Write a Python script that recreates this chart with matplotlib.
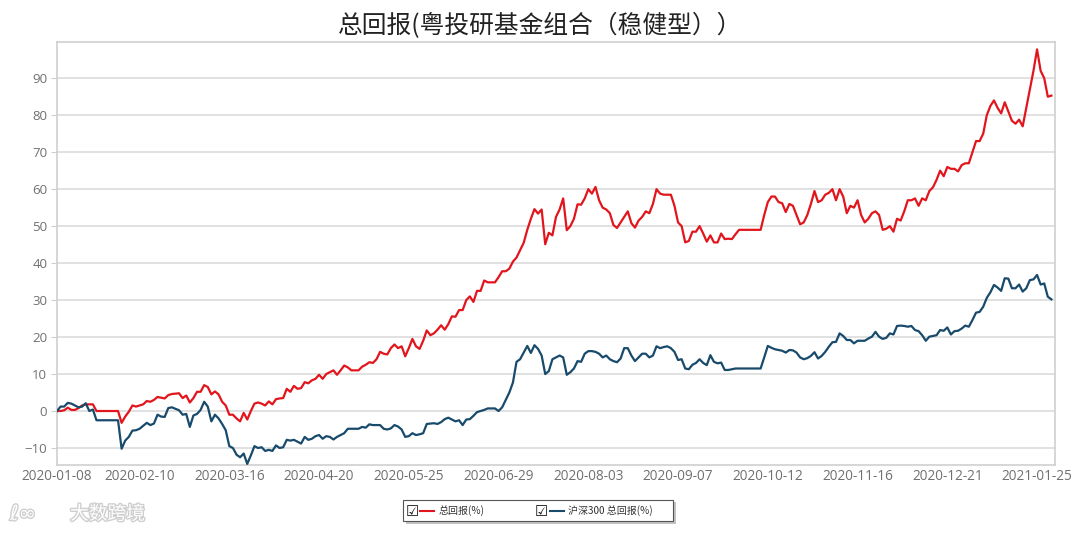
import matplotlib
matplotlib.use('Agg')
import matplotlib.pyplot as plt
import matplotlib.patheffects as pe
from matplotlib.patches import Rectangle
from matplotlib.lines import Line2D
import numpy as np
import pandas as pd

red = '#e2151c'
blue = '#184a6c'
gray = '#707070'

plt.rcParams['font.family'] = ['Noto Sans CJK SC', 'DejaVu Sans']

title = '总回报(粤投研基金组合（稳健型））'
label_fund = '总回报(%)'
label_index = '沪深300 总回报(%)'
start_date = '2020-01-08'

# 每个工作日一个值 (节假日沿用前值)
total_return = [
    0, 0, 0.2, 0.9, 0.3, 0.3, 0.8, 1.5, 1.8, 1.8,
    1.8, 0, 0, 0, 0, 0, 0, 0, -3.2, -1.5,
    -0.2, 1.5, 1.2, 1.5, 1.8, 2.7, 2.5, 3.0, 3.8, 3.6,
    3.4, 4.3, 4.6, 4.7, 4.8, 3.5, 4.2, 2.3, 3.5, 5.2,
    5.2, 7.0, 6.5, 4.5, 5.3, 4.5, 2.5, 1.5, -1.0, -1.0,
    -2.0, -2.8, -0.5, -2.3, 0.0, 2.0, 2.3, 2.0, 1.5, 2.6,
    1.8, 3.2, 3.4, 3.5, 6.0, 5.2, 6.8, 6.0, 6.2, 7.8,
    7.5, 8.3, 8.7, 9.8, 8.7, 10.0, 10.5, 11.0, 9.8, 11.0,
    12.3, 11.8, 11.0, 11.0, 11.0, 12.0, 12.5, 13.2, 13.0, 14.0,
    16.0, 15.5, 15.3, 17.0, 18.0, 17.0, 17.5, 14.8, 17.0, 19.5,
    17.5, 16.8, 19.0, 21.8, 20.5, 21.0, 22.0, 23.2, 22.0, 23.5,
    25.6, 25.5, 27.3, 27.3, 30.0, 31.0, 29.5, 32.5, 32.5, 35.3,
    34.8, 34.8, 34.8, 36.2, 37.8, 37.8, 38.5, 40.4, 41.5, 43.5,
    45.5, 49.0, 52.0, 54.6, 53.4, 54.5, 45.1, 48.2, 47.5, 52.5,
    54.5, 57.5, 48.9, 50.0, 52.0, 55.9, 55.8, 57.5, 60.0, 58.8,
    60.6, 57.0, 55.0, 54.5, 53.5, 50.3, 49.5, 51.0, 52.5, 54.0,
    50.8, 49.6, 51.5, 52.5, 54.0, 53.5, 56.0, 60.0, 58.8, 58.5,
    58.5, 58.5, 55.5, 51.0, 50.0, 45.6, 46.0, 48.5, 48.5, 50.0,
    48.0, 45.8, 47.5, 45.6, 45.6, 48.0, 46.5, 46.6, 46.5, 47.8,
    49.0, 49.0, 49.0, 49.0, 49.0, 49.0, 49.0, 53.0, 56.5, 58.0,
    58.0, 56.5, 56.2, 53.8, 56.0, 55.5, 53.0, 50.5, 51.0, 53.0,
    56.0, 59.5, 56.5, 57.0, 58.5, 59.0, 60.0, 57.0, 60.0, 58.0,
    53.5, 55.5, 55.0, 57.0, 53.0, 51.0, 52.0, 53.5, 54.0, 53.0,
    49.0, 49.3, 50.0, 48.5, 52.0, 51.5, 54.0, 57.0, 57.0, 57.5,
    55.5, 57.5, 57.0, 59.5, 60.5, 62.5, 65.0, 63.5, 66.0, 65.5,
    65.5, 64.8, 66.5, 67.0, 67.0, 70.0, 73.0, 73.0, 75.0, 80.0,
    82.5, 84.0, 82.0, 80.5, 83.5, 81.0, 78.5, 77.7, 78.8, 77.0,
    82.0, 87.0, 92.0, 97.8, 92.0, 90.0, 85.0, 85.3,
]

hs300_return = [
    0, 1.2, 1.2, 2.2, 2.0, 1.5, 1.0, 1.2, 2.1, 0.0,
    0.4, -2.5, -2.5, -2.5, -2.5, -2.5, -2.5, -2.5, -10.2, -8.0,
    -7.0, -5.3, -5.2, -4.8, -4.0, -3.2, -3.8, -3.4, -1.0, -1.5,
    -1.6, 0.8, 1.0, 0.6, 0.2, -1.0, -0.8, -4.3, -1.2, -0.8,
    0.3, 2.5, 1.2, -2.8, -1.0, -2.0, -3.5, -5.2, -9.5, -10.0,
    -11.8, -12.5, -11.5, -14.3, -12.0, -9.5, -10.0, -9.8, -10.8, -10.5,
    -10.8, -9.3, -10.0, -9.8, -7.8, -8.0, -7.8, -8.3, -8.8, -7.0,
    -7.8, -7.5, -6.8, -6.5, -7.5, -6.8, -7.0, -7.7, -7.0, -6.5,
    -6.0, -4.8, -4.8, -4.8, -4.8, -4.3, -4.5, -3.6, -3.8, -3.8,
    -3.8, -4.8, -5.0, -4.7, -3.8, -4.2, -5.0, -7.0, -6.8, -6.0,
    -6.5, -6.3, -6.0, -3.5, -3.4, -3.3, -3.5, -3.0, -2.2, -1.8,
    -2.3, -2.8, -2.5, -3.8, -2.3, -2.2, -1.3, -0.3, 0.0, 0.3,
    0.7, 0.7, 0.7, 0.0, 1.0, 3.0, 5.0, 7.7, 13.3, 14.0,
    15.8, 17.6, 15.7, 17.8, 16.8, 15.0, 10.0, 10.8, 14.0, 14.5,
    15.0, 14.5, 9.8, 10.5, 11.5, 13.5, 13.3, 15.5, 16.2, 16.2,
    16.0, 15.5, 14.5, 15.0, 14.0, 13.5, 13.2, 14.2, 17.0, 17.0,
    15.0, 13.5, 14.5, 15.5, 15.5, 14.5, 15.0, 17.5, 17.0, 17.3,
    17.5, 17.0, 16.0, 13.8, 14.0, 11.5, 11.3, 12.5, 13.0, 14.0,
    13.0, 12.4, 15.1, 13.3, 12.9, 13.1, 11.1, 11.1, 11.3, 11.5,
    11.5, 11.5, 11.5, 11.5, 11.5, 11.5, 11.5, 14.5, 17.6, 17.1,
    16.7, 16.5, 16.3, 15.8, 16.5, 16.4, 15.8, 14.5, 14.0, 14.3,
    14.9, 15.9, 14.2, 14.9, 16.0, 17.4, 18.6, 18.7, 21.0, 20.3,
    19.2, 19.2, 18.3, 19.0, 19.0, 19.0, 19.6, 20.1, 21.4, 20.1,
    19.5, 19.8, 21.0, 20.7, 23.0, 23.1, 23.0, 22.8, 23.0, 21.9,
    21.6, 20.5, 19.0, 20.1, 20.3, 20.5, 21.9, 21.7, 22.6, 20.7,
    21.6, 21.7, 22.3, 23.1, 22.8, 24.6, 26.6, 26.8, 28.2, 30.6,
    32.1, 34.1, 33.4, 32.5, 35.9, 35.8, 33.2, 33.2, 34.2, 32.3,
    33.2, 35.4, 35.6, 36.8, 34.2, 34.5, 30.9, 30.2,
]

tick_dates = ['2020-01-08', '2020-02-10', '2020-03-16', '2020-04-20',
              '2020-05-25', '2020-06-29', '2020-08-03', '2020-09-07',
              '2020-10-12', '2020-11-16', '2020-12-21', '2021-01-25']
y_ticks = [-10, 0, 10, 20, 30, 40, 50, 60, 70, 80, 90]

dates = pd.bdate_range(start_date, periods=len(total_return))
x = np.arange(len(dates))
tick_pos = dates.get_indexer(pd.to_datetime(tick_dates))

W, H = 1080, 533
fig = plt.figure(figsize=(W / 100, H / 100), dpi=100)
ax = fig.add_axes([57 / W, 1 - 465 / H, (1055 - 57) / W, (465 - 42) / H])

ax.plot(x, total_return, color=red, lw=1.6, zorder=3)
ax.plot(x, hs300_return, color=blue, lw=1.6, zorder=3)

ax.set_xlim(0, len(x))
ax.set_ylim(-14.6, 99.8)
ax.set_yticks(y_ticks)
ax.set_xticks(tick_pos)
ax.set_xticklabels(tick_dates)
ax.grid(axis='y', color='#dcdcdc', lw=1.2)
ax.set_axisbelow(True)
for s in ax.spines.values():
    s.set_color('#cfcfcf')
    s.set_linewidth(1.2)
ax.tick_params(axis='y', length=4, color='#cfcfcf', labelcolor=gray,
               labelsize=9.5, pad=3)
ax.tick_params(axis='x', length=0, labelcolor=gray, labelsize=9.8, pad=3)
for lab in ax.get_xticklabels() + ax.get_yticklabels():
    lab.set_family(['Open Sans', 'DejaVu Sans'])

fig.text(0.5, 1 - 26 / H, title, ha='center', va='center',
         fontsize=17.8, color='#222222')

# 图例框
def fx(px):
    return px / W

def fy(py):
    return 1 - py / H

fig.add_artist(Rectangle((fx(406), fy(524)), fx(270), 22 / H,
                         transform=fig.transFigure, facecolor='#9a9a9a',
                         edgecolor='none', alpha=0.6))
fig.add_artist(Rectangle((fx(403), fy(521)), fx(270), 21 / H,
                         transform=fig.transFigure, facecolor='white',
                         edgecolor='#555555', lw=0.8))
for cx, lx, tx, col, lab in [(412, 420, 439, red, label_fund),
                             (541, 550, 568, blue, label_index)]:
    fig.text(fx(cx), fy(511), '☑', ha='center', va='center', fontsize=10.5,
             family='DejaVu Sans', color='#111111')
    fig.add_artist(Line2D([fx(lx), fx(lx + 14)], [fy(511), fy(511)],
                          transform=fig.transFigure, color=col, lw=1.5))
    fig.text(fx(tx), fy(511), lab, ha='left', va='center', fontsize=7.2,
             color='#333333')

# 水印
fig.text(fx(70), fy(514), '大数跨境', ha='left', va='center', fontsize=13.5,
         color='white',
         path_effects=[pe.withStroke(linewidth=2, foreground='#cfcfcf')])
fig.text(fx(10), fy(514), 'ℓ∞', ha='left', va='center', fontsize=15,
         color='white', family='DejaVu Sans',
         path_effects=[pe.withStroke(linewidth=2, foreground='#cfcfcf')])

fig.savefig('out.png', dpi=100)
